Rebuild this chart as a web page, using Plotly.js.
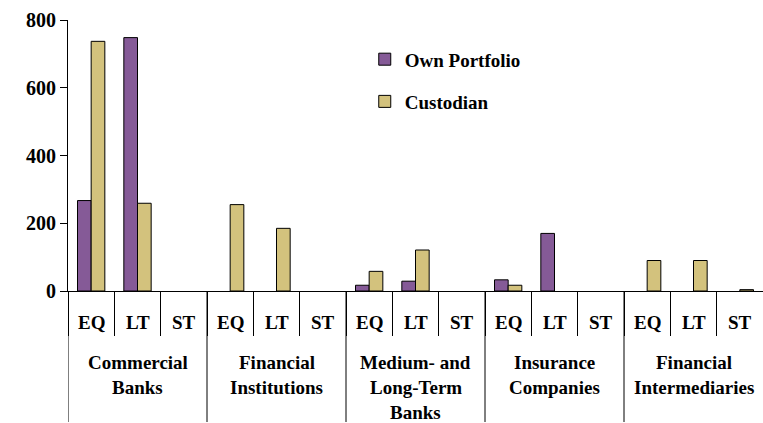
<!DOCTYPE html>
<html>
<head>
<meta charset="utf-8">
<script src="https://cdn.plot.ly/plotly-3.0.1.min.js"></script>
<style>html,body{margin:0;padding:0;background:#fff;}#chart{width:763px;height:423px;}</style>
</head>
<body>
<div id="chart"></div>
<script>
// Institution groups (one entry per label line) and instrument types
const groups = [
  ["Commercial", "Banks"],
  ["Financial", "Institutions"],
  ["Medium- and", "Long-Term", "Banks"],
  ["Insurance", "Companies"],
  ["Financial", "Intermediaries"]
];
const instruments = ["EQ", "LT", "ST"];

// Holdings per group, in order EQ, LT, ST (null = nothing reported)
const ownPortfolio = [
  [267, 748, null],
  [null, null, null],
  [17, 29, null],
  [33, 170, null],
  [null, null, null]
];
const custodian = [
  [737, 259, null],
  [255, 185, null],
  [58, 121, null],
  [17, null, null],
  [90, 90, 4]
];
const yTicks = [0, 200, 400, 600, 800];

const FAMILY = "Liberation Serif, Times New Roman, serif";

// One category per group/instrument pair
const cats = [], yOwn = [], yCust = [];
groups.forEach((g, gi) => {
  instruments.forEach((ins, ii) => {
    cats.push(g.join(" ") + " " + ins);
    yOwn.push(ownPortfolio[gi][ii]);
    yCust.push(custodian[gi][ii]);
  });
});

const traces = [
  {type: "bar", name: "<b>Own Portfolio</b>", x: cats, y: yOwn, legendgroup: "a",
   marker: {color: "#855A97", line: {color: "#000", width: 1}}},
  {type: "bar", name: "<b>Custodian</b>", x: cats, y: yCust, legendgroup: "b",
   marker: {color: "#D3C27D", line: {color: "#000", width: 1}}}
];

// Plot area geometry (px) used to place label rows below the axis
const plotTop = 19.5, plotBottom = 291.5, plotH = plotBottom - plotTop;
const py = px => (plotBottom - px) / plotH;

const annotations = [];
const shapes = [];
cats.forEach((c, i) => {
  annotations.push({xref: "x", yref: "paper", x: i, y: py(323), text: "<b>" + instruments[i % 3] + "</b>",
    showarrow: false, xanchor: "center", yanchor: "middle", font: {family: FAMILY, size: 19, color: "#000"}});
});
groups.forEach((g, gi) => {
  const xc = gi * 3 + 1;
  g.forEach((line, li) => {
    annotations.push({xref: "x", yref: "paper", x: xc, y: py(363.5 + li * 25), text: "<b>" + line + "</b>",
      showarrow: false, xanchor: "center", yanchor: "middle", font: {family: FAMILY, size: 19, color: "#000"}});
  });
  // group divider running from the axis to the bottom edge
  shapes.push({type: "line", xref: "x", yref: "paper", x0: gi * 3 - 0.5, x1: gi * 3 - 0.5, y0: 0, y1: py(423),
    line: {color: "#000", width: 1}});
});

const layout = {
  width: 763, height: 423,
  margin: {l: 68, r: 0, t: plotTop, b: 423 - plotBottom},
  paper_bgcolor: "#fff", plot_bgcolor: "#fff",
  font: {family: FAMILY, size: 19, color: "#000"},
  barmode: "group",
  bargap: 0.41,
  bargroupgap: 0,
  showlegend: true,
  legend: {x: 0.427, y: 0.925, xanchor: "left", yanchor: "top", bgcolor: "rgba(0,0,0,0)",
           traceorder: "grouped", tracegroupgap: 14.5, font: {family: FAMILY, size: 19, color: "#000"}},
  xaxis: {
    type: "category",
    tickson: "boundaries",
    ticks: "outside", ticklen: 44, tickcolor: "#000", tickwidth: 1,
    showticklabels: false,
    showline: true, linecolor: "#000", linewidth: 1,
    showgrid: false, zeroline: false,
    range: [-0.5, cats.length - 0.5]
  },
  yaxis: {
    range: [0, 800], tickmode: "array", tickvals: yTicks, ticktext: yTicks.map(v => "<b>" + v + "</b>"),
    ticks: "outside", ticklen: 7, tickcolor: "#000", tickwidth: 1,
    showline: true, linecolor: "#000", linewidth: 1,
    showgrid: false, zeroline: false,
    tickfont: {family: FAMILY, size: 20, color: "#000"}
  },
  annotations: annotations,
  shapes: shapes
};

Plotly.newPlot("chart", traces, layout, {displayModeBar: false, staticPlot: true});
</script>
</body>
</html>
